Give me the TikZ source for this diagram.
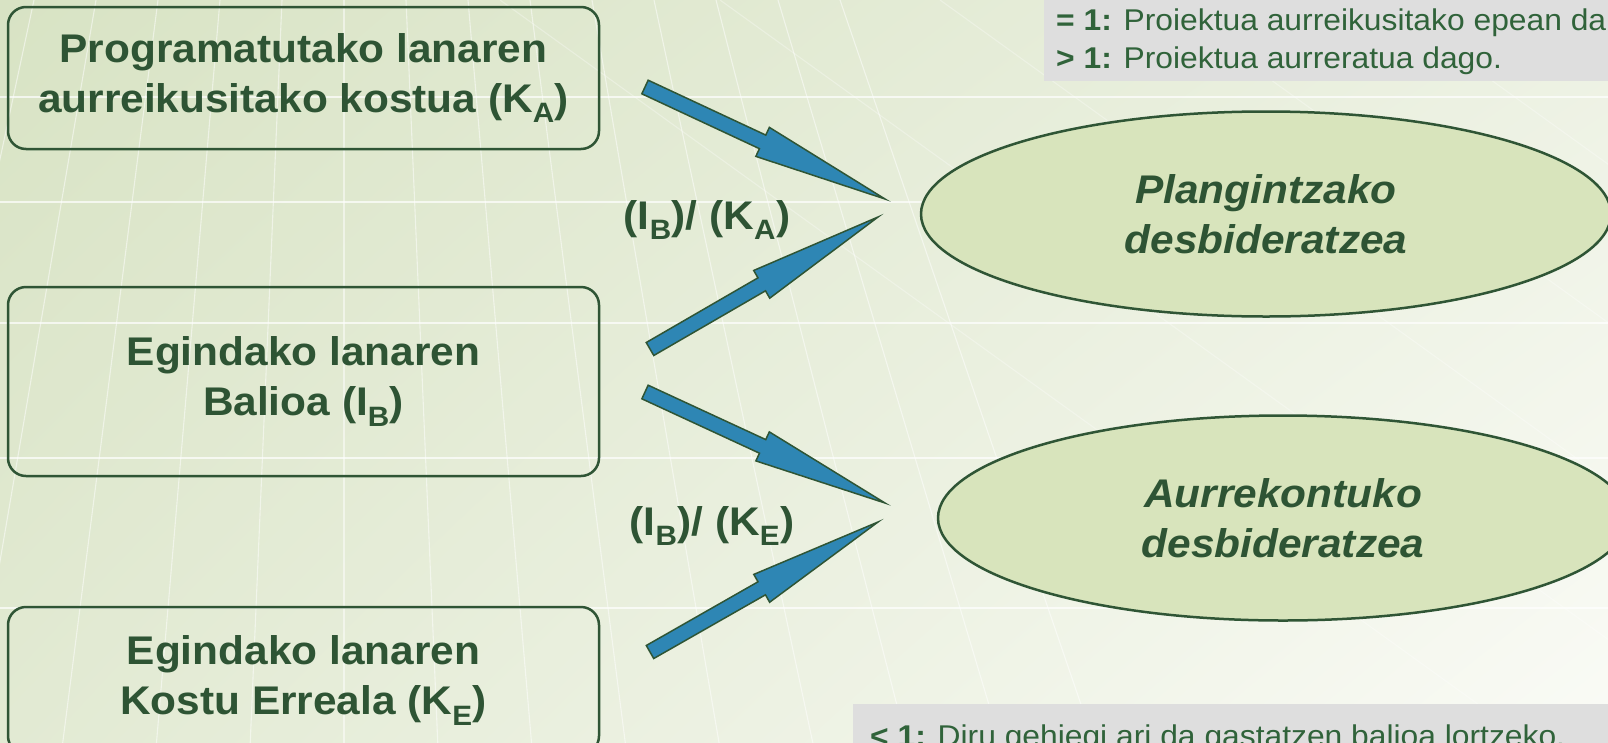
\documentclass[tikz,border=0pt]{standalone}
\usepackage{fontspec}
\setmainfont[FakeStretch=1.06]{Liberation Sans}
\usepackage{tikz}
\usetikzlibrary{shapes,arrows,positioning,calc,shadings}
\usepackage{xcolor}

\definecolor{linegreen}{HTML}{2F5535}
\definecolor{textgreen}{HTML}{2E5434}
\definecolor{arrowblue}{HTML}{2E86B4}
\definecolor{ellgreen}{HTML}{D8E4BC}
\definecolor{boxgray}{HTML}{DEDEDE}
\definecolor{graytext}{HTML}{30633A}
\definecolor{bgUL}{HTML}{D8E3C4}
\definecolor{bgUR}{HTML}{ECF1E2}
\definecolor{bgLL}{HTML}{E2EAD3}
\definecolor{bgLR}{HTML}{FAFBF6}

% block arrow from tail to tip
\newcommand{\bluearrow}[2]{%
  \path (#1) -- (#2) coordinate[pos=0.49] (ab);
  \filldraw[fill=arrowblue, draw=linegreen, line width=1.5pt, line join=miter]
    ($(#1)!7.5pt!90:(#2)$) -- ($(ab)!7.5pt!90:(#2)$) -- ($(ab)!16pt!90:(#2)$) -- (#2)
    -- ($(ab)!16pt!-90:(#2)$) -- ($(ab)!7.5pt!-90:(#2)$) -- ($(#1)!7.5pt!-90:(#2)$) -- cycle;
}

\begin{document}
\begin{tikzpicture}[x=1pt, y=-1pt,
    lanbox/.style={draw=linegreen, line width=2.5pt, rounded corners=18pt,
      minimum width=591pt, text=textgreen, align=center,
      font=\bfseries\fontsize{40}{50}\selectfont},
    desbid/.style={ellipse, fill=ellgreen, draw=linegreen, line width=2.5pt,
      minimum width=690pt, minimum height=205pt, inner sep=0pt, text=textgreen,
      align=center, font=\bfseries\itshape\fontsize{40}{50}\selectfont},
    ratio/.style={text=textgreen, inner sep=0pt, font=\bfseries\fontsize{40}{50}\selectfont},
    ratiotext/.style={text=graytext, inner sep=0pt, font=\fontsize{30}{38}\selectfont},
    gridline/.style={white, line width=1.1pt, opacity=0.7}]
                    \useasboundingbox (0,0) rectangle (1608,742);
                    \clip (0,0) rectangle (1608,742);
                    % background
                    \shade[upper left=bgUL, upper right=bgUR, lower left=bgLL, lower right=bgLR]
                        (0,0) rectangle (1608,742);
                    \foreach \y in {97,202,323,458,608} {
                        \draw[gridline] (0,\y) -- (1608,\y);
                    }
                    \foreach \k in {-6,...,8} {
                        \draw[gridline, opacity=0.5] (344+\k*62,0) -- (344+\k*94.5,760);
                    }
                    \foreach \x in {500,720,940,1160,1380,1600} {
                        \draw[gridline, opacity=0.3] (\x,0) -- ++(1000,720);
                    }

                    % boxes on the left
                    \node[lanbox, minimum height=142pt] (progKA) at (303.5,78)
                        {Programatutako lanaren\\aurreikusitako kostua (K\textsubscript{A})};
                    \node[lanbox, minimum height=189pt] (balioIB) at (303.5,381.5)
                        {Egindako lanaren\\Balioa (I\textsubscript{B})};
                    \node[lanbox, minimum height=147pt] (kostuKE) at (303.5,680.5)
                        {Egindako lanaren\\Kostu Erreala (K\textsubscript{E})};

                    % ellipses
                    \node[desbid] (plan) at (1266,214) {Plangintzako\\desbideratzea};
                    \node[desbid] (aurre) at (1283,518) {Aurrekontuko\\desbideratzea};

                    % arrows
                    \coordinate (t1) at (645,87);  \coordinate (h1) at (885,199);
                    \coordinate (t2) at (650,349); \coordinate (h2) at (878,217);
                    \coordinate (t3) at (645,392); \coordinate (h3) at (885,503);
                    \coordinate (t4) at (650,652); \coordinate (h4) at (878,522);
                    \bluearrow{t1}{h1}
                    \bluearrow{t2}{h2}
                    \bluearrow{t3}{h3}
                    \bluearrow{t4}{h4}

                    \node[ratio, anchor=base] (ibka) at (707,229) {(I\textsubscript{B})/ (K\textsubscript{A})};
                    \node[ratio, anchor=base] (ibke) at (712,535) {(I\textsubscript{B})/ (K\textsubscript{E})};

                    % ratio notes
                    \fill[boxgray] (1044,-5) rectangle (1620,81);
                    \node[ratiotext, anchor=base west] (planeq) at (1056,30)
                        {\textbf{= 1:} Proiektua aurreikusitako epean da};
                    \node[ratiotext, anchor=base west] (plangt) at (1056,68)
                        {\textbf{> 1:} Proiektua aurreratua dago.};
                    \fill[boxgray] (853,704) rectangle (1620,760);
                    \node[ratiotext, anchor=base west] (aurrelt) at (870,746)
                        {\textbf{< 1:} Diru gehiegi ari da gastatzen balioa lortzeko.};
                \end{tikzpicture}
\end{document}
